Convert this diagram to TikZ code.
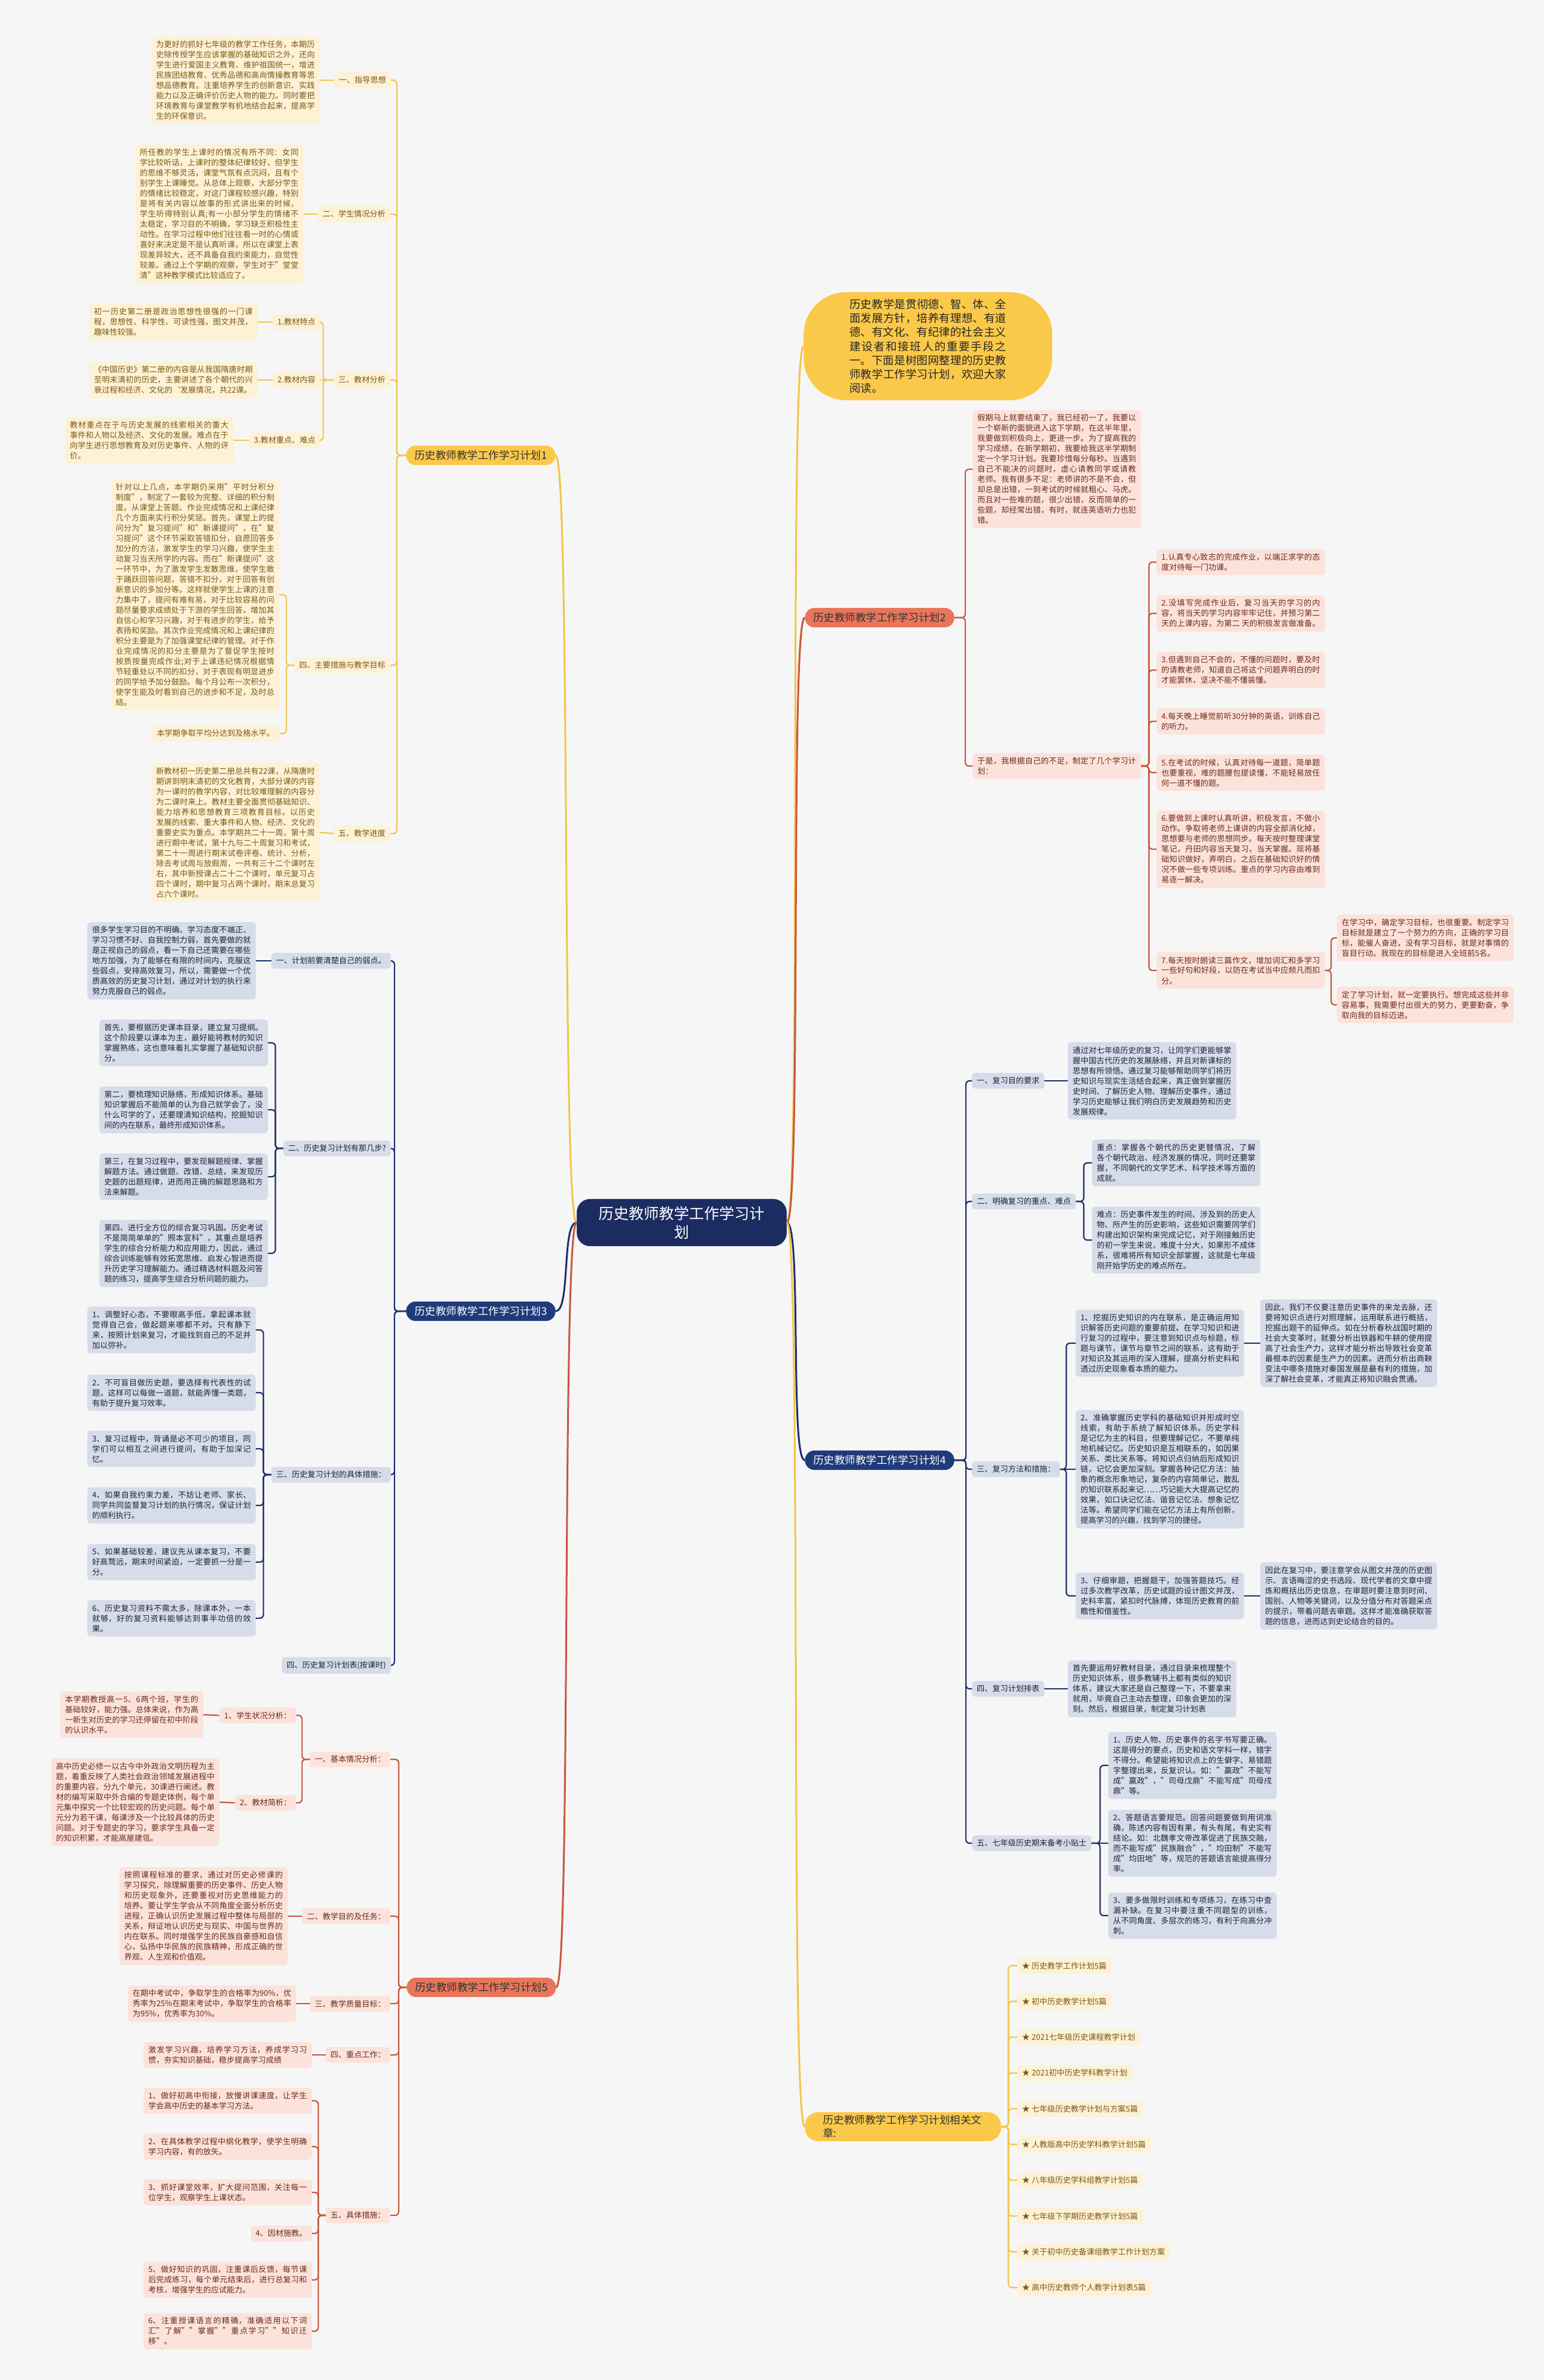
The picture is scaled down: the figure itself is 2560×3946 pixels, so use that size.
\documentclass[tikz,border=0pt]{standalone}
\usepackage{fontspec}
\setmainfont{Noto Sans CJK SC}
\XeTeXlinebreaklocale "zh"
\XeTeXlinebreakskip=0pt plus 1pt
\setlength{\parindent}{0pt}
\definecolor{bgc}{HTML}{F6F6F6}
\definecolor{yline}{HTML}{F2C548}
\definecolor{yfill}{HTML}{FDF1D6}
\definecolor{ytxt}{HTML}{7A5A14}
\definecolor{ymain}{HTML}{FBC94A}
\definecolor{rline}{HTML}{C8573C}
\definecolor{rfill}{HTML}{FBE3DB}
\definecolor{rtxt}{HTML}{6E2A1C}
\definecolor{rmain}{HTML}{E8765A}
\definecolor{bline}{HTML}{1E2F6B}
\definecolor{bfill}{HTML}{D7DCEA}
\definecolor{btxt}{HTML}{1E2436}
\definecolor{bmain}{HTML}{1F3B7A}
\definecolor{rootc}{HTML}{1B2D60}
\newcommand{\leaffont}{\fontsize{13}{17}\selectfont}
\newcommand{\branchfont}{\fontsize{17.5}{22}\selectfont}
\newcommand{\rootfont}{\fontsize{25}{31}\selectfont}
\newcommand{\introfont}{\fontsize{18.4}{23.3}\selectfont}

\begin{document}
\begin{tikzpicture}[x=1pt,y=-1pt,
  lab/.style={rounded corners=5pt,inner xsep=8pt,inner ysep=7pt,font=\leaffont},
  ylab/.style={lab,fill=yfill,text=ytxt},
  rlab/.style={lab,fill=rfill,text=rtxt},
  blab/.style={lab,fill=bfill,text=btxt},
  leafbox/.style={text width=263pt,align=justify},
  notebox/.style={text width=277pt,align=justify},
  mainbox/.style={rounded corners=16pt,inner xsep=14pt,inner ysep=8pt,font=\branchfont},
  ylink/.style={draw=yline,line width=2.2pt,rounded corners=6pt},
  rlink/.style={draw=rline,line width=2.2pt,rounded corners=6pt},
  blink/.style={draw=bline,line width=2.2pt,rounded corners=6pt}]
\fill[bgc] (0,0) rectangle (2560,3946);
\useasboundingbox (0,0) rectangle (2560,3946);

% root and intro
\node[fill=rootc,text=white,rounded corners=22pt,inner xsep=34pt,inner ysep=12pt,text width=280pt,align=center,font=\rootfont] (root) at (1130,2027) {历史教师教学工作学习计\\划};
\node[fill=ymain,text=black!85,rounded corners=70pt,inner xsep=76pt,inner ysep=11pt,text width=260pt,align=justify,font=\introfont,anchor=west] (intro) at (1332,574) {历史教学是贯彻德、智、体、全面发展方针，培养有理想、有道德、有文化、有纪律的社会主义建设者和接班人的重要手段之一。下面是树图网整理的历史教师教学工作学习计划，欢迎大家阅读。};

% plan 1
\node[mainbox,fill=ymain,text=black!80,anchor=east] (p1) at (921,755) {历史教师教学工作学习计划1};
\node[ylab,anchor=east] (p1a) at (648,133) {一、指导思想};
\node[ylab,leafbox,anchor=east] (p1aL) at (530,133) {为更好的抓好七年级的教学工作任务，本期历史除传授学生应该掌握的基础知识之外，还向学生进行爱国主义教育、维护祖国统一，增进民族团结教育、优秀品德和高尚情操教育等思想品德教育。注重培养学生的创新意识、实践能力以及正确评价历史人物的能力。同时要把环境教育与课堂教学有机地结合起来，提高学生的环保意识。};
\node[ylab,anchor=east] (p1b) at (647,355) {二、学生情况分析};
\node[ylab,leafbox,anchor=east] (p1bL) at (503,355) {所任教的学生上课时的情况有所不同：女同学比较听话，上课时的整体纪律较好，但学生的思维不够灵活，课堂气氛有点沉闷，且有个别学生上课睡觉。从总体上观察，大部分学生的情绪比较稳定，对这门课程较感兴趣，特别是将有关内容以故事的形式讲出来的时候，学生听得特别认真;有一小部分学生的情绪不太稳定，学习目的不明确，学习缺乏积极性主动性。在学习过程中他们往往看一时的心情或喜好来决定是不是认真听课，所以在课堂上表现差异较大，还不具备自我约束能力，自觉性较差。通过上个学期的观察，学生对于"堂堂清"这种教学模式比较适应了。};
\node[ylab,anchor=east] (p1c) at (647,630) {三、教材分析};
\node[ylab,anchor=east] (p1c1) at (531,534) {1.教材特点};
\node[ylab,leafbox,anchor=east] (p1c1L) at (427,534) {初一历史第二册是政治思想性很强的一门课程，思想性、科学性、可读性强，图文并茂，趣味性较强。};
\node[ylab,anchor=east] (p1c2) at (531,630) {2.教材内容};
\node[ylab,leafbox,anchor=east] (p1c2L) at (427,630) {《中国历史》第二册的内容是从我国隋唐时期至明末清初的历史，主要讲述了各个朝代的兴衰过程和经济、文化的`发展情况，共22课。};
\node[ylab,anchor=east] (p1c3) at (531,730) {3.教材重点、难点};
\node[ylab,leafbox,anchor=east] (p1c3L) at (387,730) {教材重点在于与历史发展的线索相关的重大事件和人物以及经济、文化的发展。难点在于向学生进行思想教育及对历史事件、人物的评价。};
\node[ylab,anchor=east] (p1d) at (647,1103) {四、主要措施与教学目标};
\node[ylab,leafbox,anchor=east] (p1d1) at (463,986) {针对以上几点，本学期仍采用"平时分积分制度"，制定了一套较为完整、详细的积分制度。从课堂上答题、作业完成情况和上课纪律几个方面来实行积分奖惩。首先，课堂上的提问分为"复习提问"和"新课提问"，在"复习提问"这个环节采取答错扣分，自愿回答多加分的方法，激发学生的学习兴趣，使学生主动复习当天所学的内容。而在"新课提问"这一环节中，为了激发学生发散思维，使学生敢于踊跃回答问题，答错不扣分，对于回答有创新意识的多加分等。这样就使学生上课的注意力集中了，提问有难有易，对于比较容易的问题尽量要求成绩处于下游的学生回答，增加其自信心和学习兴趣，对于有进步的学生，给予表扬和奖励。其次作业完成情况和上课纪律的积分主要是为了加强课堂纪律的管理。对于作业完成情况的扣分主要是为了督促学生按时按质按量完成作业;对于上课违纪情况根据情节轻重处以不同的扣分，对于表现有明显进步的同学给予加分鼓励。每个月公布一次积分，使学生能及时看到自己的进步和不足，及时总结。};
\node[ylab,anchor=east] (p1d2) at (463,1216) {本学期争取平均分达到及格水平。};
\node[ylab,anchor=east] (p1e) at (647,1382) {五、教学进度};
\node[ylab,leafbox,anchor=east] (p1eL) at (530,1380) {新教材初一历史第二册总共有22课，从隋唐时期讲到明末清初的文化教育，大部分课的内容为一课时的教学内容，对比较难理解的内容分为二课时来上。教材主要全面贯彻基础知识、能力培养和思想教育三项教育目标，以历史发展的线索、重大事件和人物、经济、文化的重要史实为重点。本学期共二十一周，第十周进行期中考试，第十九与二十周复习和考试，第二十一周进行期末试卷评卷、统计、分析，除去考试周与放假周，一共有三十二个课时左右，其中新授课占二十二个课时，单元复习占四个课时，期中复习占两个课时，期末总复习占六个课时。};

% plan 2
\node[mainbox,fill=rmain,text=black!80,anchor=west] (p2) at (1334,1024) {历史教师教学工作学习计划2};
\node[rlab,leafbox,anchor=west] (p2a) at (1612,778) {假期马上就要结束了，我已经初一了，我要以一个崭新的面貌进入这下学期，在这半年里，我要做到积极向上，更进一步。为了提高我的学习成绩，在新学期初，我要给我这半学期制定一个学习计划。我要珍惜每分每秒。当遇到自己不能决的问题时，虚心请教同学或请教老师。我有很多不足：老师讲的不是不会，但却总是出错，一到考试的时候就粗心、马虎。而且对一些难的题，很少出错，反而简单的一些题，却经常出错，有时，就连英语听力也犯错。};
\node[rlab,leafbox,anchor=west] (p2b) at (1612,1270) {于是，我根据自己的不足，制定了几个学习计划：};
\node[rlab,leafbox,anchor=west] (p2i1) at (1917,932) {1.认真专心致志的完成作业，以端正求学的态度对待每一门功课。};
\node[rlab,leafbox,anchor=west] (p2i2) at (1917,1017) {2.没填写完成作业后，复习当天的学习的内容，将当天的学习内容牢牢记住，并预习第二天的上课内容，为第二 天的积极发言做准备。};
\node[rlab,leafbox,anchor=west] (p2i3) at (1917,1111) {3.但遇到自己不会的，不懂的问题时，要及时的请教老师，知道自己将这个问题弄明白的时才能罢休，坚决不能不懂装懂。};
\node[rlab,leafbox,anchor=west] (p2i4) at (1917,1196) {4.每天晚上睡觉前听30分钟的英语，训练自己的听力。};
\node[rlab,leafbox,anchor=west] (p2i5) at (1917,1281) {5.在考试的时候，认真对待每一道题，简单题也要重视，难的题腰包提读懂，不能轻易放任何一道不懂的题。};
\node[rlab,leafbox,anchor=west] (p2i6) at (1917,1408) {6.要做到上课时认真听讲，积极发言，不做小动作。争取将老师上课讲的内容全部消化掉，思想要与老师的思想同步。每天按时整理课堂笔记，丹田内容当天复习，当天掌握。现将基础知识做好，弄明白，之后在基础知识好的情况不做一些专项训练。重点的学习内容由难到易逐一解决。};
\node[rlab,leafbox,anchor=west] (p2i7) at (1917,1609) {7.每天按时朗读三篇作文，增加词汇和多学习一些好句和好段，以防在考试当中应频凡而扣分。};
\node[rlab,notebox,anchor=west] (p2i7a) at (2216,1555) {在学习中，确定学习目标，也很重要。制定学习目标就是建立了一个努力的方向，正确的学习目标，能催人奋进，没有学习目标，就是对事情的盲目行动。我现在的目标是进入全班前5名。};
\node[rlab,notebox,anchor=west] (p2i7b) at (2216,1666) {定了学习计划，就一定要执行。想完成这些并非容易事，我需要付出很大的努力，更要勤奋，争取向我的目标迈进。};

% plan 3
\node[mainbox,fill=bmain,text=white,anchor=east] (p3) at (921,2174) {历史教师教学工作学习计划3};
\node[blab,anchor=east] (p3a) at (648,1593) {一、计划前要清楚自己的弱点。};
\node[blab,leafbox,anchor=east] (p3aL) at (424,1593) {很多学生学习目的不明确、学习态度不端正、学习习惯不好、自我控制力弱，首先要做的就是正视自己的弱点，看一下自己还需要在哪些地方加强，为了能够在有限的时间内，克服这些弱点，安排高效复习，所以，需要做一个优质高效的历史复习计划，通过对计划的执行来努力克服自己的弱点。};
\node[blab,anchor=east] (p3b) at (648,1904) {二、历史复习计划有那几步?};
\node[blab,leafbox,anchor=east] (p3b1) at (444,1729) {首先，要根据历史课本目录，建立复习提纲。这个阶段要以课本为主，最好能将教材的知识掌握熟练，这也意味着扎实掌握了基础知识部分。};
\node[blab,leafbox,anchor=east] (p3b2) at (444,1840) {第二，要梳理知识脉络，形成知识体系。基础知识掌握后不能简单的认为自己就学会了，没什么可学的了，还要理清知识结构，挖掘知识间的内在联系，最终形成知识体系。};
\node[blab,leafbox,anchor=east] (p3b3) at (444,1951) {第三，在复习过程中，要发现解题规律、掌握解题方法。通过做题、改错、总结，来发现历史题的出题规律，进而用正确的解题思路和方法来解题。};
\node[blab,leafbox,anchor=east] (p3b4) at (444,2078) {第四、进行全方位的综合复习巩固。历史考试不是简简单单的"照本宣科"，其重点是培养学生的综合分析能力和应用能力，因此，通过综合训练能够有效拓宽思维、启发心智进而提升历史学习理解能力。通过精选材料题及问答题的练习，提高学生综合分析问题的能力。};
\node[blab,anchor=east] (p3c) at (648,2445) {三、历史复习计划的具体措施：};
\node[blab,leafbox,anchor=east] (p3c1) at (424,2205) {1、调整好心态，不要眼高手低，拿起课本就觉得自己会，做起题来哪都不对。只有静下来，按照计划来复习，才能找到自己的不足并加以弥补。};
\node[blab,leafbox,anchor=east] (p3c2) at (424,2309) {2、不可盲目做历史题，要选择有代表性的试题，这样可以每做一道题，就能弄懂一类题，有助于提升复习效率。};
\node[blab,leafbox,anchor=east] (p3c3) at (424,2402) {3、复习过程中，背诵是必不可少的项目，同学们可以相互之间进行提问，有助于加深记忆。};
\node[blab,leafbox,anchor=east] (p3c4) at (424,2496) {4、如果自我约束力差，不妨让老师、家长、同学共同监督复习计划的执行情况，保证计划的顺利执行。};
\node[blab,leafbox,anchor=east] (p3c5) at (424,2590) {5、如果基础较差，建议先从课本复习，不要好高骛远，期末时间紧迫，一定要抓一分是一分。};
\node[blab,leafbox,anchor=east] (p3c6) at (424,2683) {6、历史复习资料不需太多，除课本外，一本就够，好的复习资料能够达到事半功倍的效果。};
\node[blab,anchor=east] (p3d) at (648,2761) {四、历史复习计划表(按课时)};

% plan 4
\node[mainbox,fill=bmain,text=white,anchor=west] (p4) at (1334,2421) {历史教师教学工作学习计划4};
\node[blab,anchor=west] (p4a) at (1611,1792) {一、复习目的要求};
\node[blab,leafbox,anchor=west] (p4aL) at (1770,1792) {通过对七年级历史的复习，让同学们更能够掌握中国古代历史的发展脉络，并且对新课标的思想有所领悟。通过复习能够帮助同学们将历史知识与现实生活结合起来，真正做到掌握历史时间、了解历史人物、理解历史事件，通过学习历史能够让我们明白历史发展趋势和历史发展规律。};
\node[blab,anchor=west] (p4b) at (1611,1992) {二、明确复习的重点、难点};
\node[blab,leafbox,anchor=west] (p4b1) at (1810,1928) {重点：掌握各个朝代的历史更替情况，了解各个朝代政治、经济发展的情况，同时还要掌握，不同朝代的文学艺术、科学技术等方面的成就。};
\node[blab,leafbox,anchor=west] (p4b2) at (1810,2056) {难点：历史事件发生的时间、涉及到的历史人物、所产生的历史影响，这些知识需要同学们构建出知识架构来完成记忆，对于刚接触历史的初一学生来说，难度十分大，如果形不成体系，很难将所有知识全部掌握，这就是七年级刚开始学历史的难点所在。};
\node[blab,anchor=west] (p4c) at (1611,2436) {三、复习方法和措施：};
\node[blab,leafbox,anchor=west] (p4c1) at (1783,2227) {1、挖掘历史知识的内在联系，是正确运用知识解答历史问题的重要前提。在学习知识和进行复习的过程中，要注意到知识点与标题，标题与课节，课节与章节之间的联系，这有助于对知识及其运用的深入理解，提高分析史料和透过历史现象看本质的能力。};
\node[blab,notebox,anchor=west] (p4c1n) at (2089,2227) {因此，我们不仅要注意历史事件的来龙去脉，还要将知识点进行对照理解，运用联系进行概括，挖掘出题干的延伸点。如在分析春秋战国时期的社会大变革时，就要分析出铁器和牛耕的使用提高了社会生产力，这样才能分析出导致社会变革最根本的因素是生产力的因素。进而分析出商鞅变法中哪条措施对秦国发展是最有利的措施，加深了解社会变革，才能真正将知识融会贯通。};
\node[blab,leafbox,anchor=west] (p4c2) at (1783,2436) {2、准确掌握历史学科的基础知识并形成时空线索，有助于系统了解知识体系。历史学科是记忆为主的科目，但要理解记忆，不要单纯地机械记忆。历史知识是互相联系的，如因果关系、类比关系等。将知识点归纳后形成知识链，记忆会更加深刻。掌握各种记忆方法：抽象的概念形象地记，复杂的内容简单记，散乱的知识联系起来记……巧记能大大提高记忆的效果，如口诀记忆法、谐音记忆法、想象记忆法等。希望同学们能在记忆方法上有所创新，提高学习的兴趣，找到学习的捷径。};
\node[blab,leafbox,anchor=west] (p4c3) at (1783,2646) {3、仔细审题，把握题干，加强答题技巧。经过多次教学改革，历史试题的设计图文并茂，史料丰富，紧扣时代脉搏，体现历史教育的前瞻性和借鉴性。};
\node[blab,notebox,anchor=west] (p4c3n) at (2089,2646) {因此在复习中，要注意学会从图文并茂的历史图示、言语晦涩的史书选段、现代学者的文章中提炼和概括出历史信息，在审题时要注意到时间、国别、人物等关键词，以及分值分布对答题采点的提示，带着问题去审题。这样才能准确获取答题的信息，进而达到史论结合的目的。};
\node[blab,anchor=west] (p4d) at (1611,2800) {四、复习计划排表};
\node[blab,leafbox,anchor=west] (p4dL) at (1770,2800) {首先要运用好教材目录，通过目录来梳理整个历史知识体系，很多教辅书上都有类似的知识体系，建议大家还是自己整理一下，不要拿来就用，毕竟自己主动去整理，印象会更加的深刻。然后，根据目录，制定复习计划表};
\node[blab,anchor=west] (p4e) at (1611,3056) {五、七年级历史期末备考小贴士};
\node[blab,leafbox,anchor=west] (p4e1) at (1837,2927) {1、历史人物、历史事件的名字书写要正确。这是得分的要点，历史和语文学科一样，错字不得分。希望能将知识点上的生僻字、易错题字整理出来，反复识认。如："嬴政"不能写成"赢政"，"司母戊鼎"不能写成"司母戌鼎"等。};
\node[blab,leafbox,anchor=west] (p4e2) at (1837,3056) {2、答题语言要规范。回答问题要做到用词准确，陈述内容有因有果，有头有尾，有史实有结论。如：北魏孝文帝改革促进了民族交融，而不能写成"民族融合"，"均田制"不能写成"均田地"等，规范的答题语言能提高得分率。};
\node[blab,leafbox,anchor=west] (p4e3) at (1837,3176) {3、要多做限时训练和专项练习，在练习中查漏补缺。在复习中要注重不同题型的训练，从不同角度、多层次的练习，有利于向高分冲刺。};

% plan 5
\node[mainbox,fill=rmain,text=black!80,anchor=east] (p5) at (922,3295) {历史教师教学工作学习计划5};
\node[rlab,anchor=east] (p5a) at (647,2917) {一、基本情况分析：};
\node[rlab,anchor=east] (p5a1) at (491,2844) {1、学生状况分析：};
\node[rlab,text width=221pt,align=justify,anchor=east] (p5a1L) at (337,2843) {本学期教授高一5、6两个班，学生的基础较好，能力强。总体来说，作为高一新生对历史的学习还停留在初中阶段的认识水平。};
\node[rlab,anchor=east] (p5a2) at (491,2989) {2、教材简析：};
\node[rlab,leafbox,anchor=east] (p5a2L) at (364,2988) {高中历史必修一以古今中外政治文明历程为主题，着重反映了人类社会政治领域发展进程中的重要内容，分九个单元，30课进行阐述。教材的编写采取中外合编的专题史体例，每个单元集中探究一个比较宏观的历史问题。每个单元分为若干课，每课涉及一个比较具体的历史问题。对于专题史的学习，要求学生具备一定的知识积累，才能高屋建瓴。};
\node[rlab,anchor=east] (p5b) at (647,3177) {二、教学目的及任务：};
\node[rlab,leafbox,anchor=east] (p5bL) at (477,3177) {按照课程标准的要求，通过对历史必修课的学习探究，除理解重要的历史事件、历史人物和历史现象外，还要重视对历史思维能力的培养。要让学生学会从不同角度全面分析历史进程，正确认识历史发展过程中整体与局部的关系，辩证地认识历史与现实、中国与世界的内在联系。同时增强学生的民族自豪感和自信心，弘扬中华民族的民族精神，形成正确的世界观、人生观和价值观。};
\node[rlab,anchor=east] (p5c) at (647,3322) {三、教学质量目标：};
\node[rlab,leafbox,anchor=east] (p5cL) at (491,3322) {在期中考试中，争取学生的合格率为90\%，优秀率为25\%在期末考试中，争取学生的合格率为95\%，优秀率为30\%。};
\node[rlab,anchor=east] (p5d) at (647,3407) {四、重点工作：};
\node[rlab,leafbox,anchor=east] (p5dL) at (517,3407) {激发学习兴趣，培养学习方法，养成学习习惯，夯实知识基础，稳步提高学习成绩};
\node[rlab,anchor=east] (p5e) at (647,3673) {五、具体措施：};
\node[rlab,leafbox,anchor=east] (p5e1) at (517,3483) {1、做好初高中衔接，放慢讲课速度，让学生学会高中历史的基本学习方法。};
\node[rlab,leafbox,anchor=east] (p5e2) at (517,3559) {2、在具体教学过程中纲化教学，使学生明确学习内容，有的放矢。};
\node[rlab,leafbox,anchor=east] (p5e3) at (517,3635) {3、抓好课堂效率，扩大提问范围，关注每一位学生，观察学生上课状态。};
\node[rlab,anchor=east] (p5e4) at (517,3703) {4、因材施教。};
\node[rlab,leafbox,anchor=east] (p5e5) at (517,3780) {5、做好知识的巩固，注重课后反馈，每节课后完成练习，每个单元结束后，进行总复习和考核，增强学生的应试能力。};
\node[rlab,leafbox,anchor=east] (p5e6) at (517,3865) {6、注重授课语言的精确，准确适用以下词汇"了解""掌握""重点学习""知识迁移"。};

% related articles
\node[mainbox,fill=ymain,text=black!80,rounded corners=22pt,inner xsep=30pt,inner ysep=5pt,text width=265pt,align=left,anchor=west] (rel) at (1334,3526) {历史教师教学工作学习计划相关文章:};
\foreach \txt [count=\i] in {历史教学工作计划5篇,初中历史教学计划5篇,2021七年级历史课程教学计划,2021初中历史学科教学计划,七年级历史教学计划与方案5篇,人教版高中历史学科教学计划5篇,八年级历史学科组教学计划5篇,七年级下学期历史教学计划5篇,关于初中历史备课组教学工作计划方案,高中历史教师个人教学计划表5篇}
  \node[ylab,anchor=west] (r\i) at (1686,{3259+(\i-1)*59.3}) {★ \txt};

% connectors from the root
\draw[ylink,line width=3pt] (root.east) .. controls +(25,0) and +(-25,0) .. (intro.west);
\draw[rlink,line width=3pt] (root.east) .. controls +(25,0) and +(-25,0) .. (p2.west);
\draw[blink,line width=3pt] (root.east) .. controls +(25,0) and +(-25,0) .. (p4.west);
\draw[ylink,line width=3pt] (root.east) .. controls +(25,0) and +(-25,0) .. (rel.west);
\draw[ylink,line width=3pt] (root.west) .. controls +(-25,0) and +(25,0) .. (p1.east);
\draw[blink,line width=3pt] (root.west) .. controls +(-25,0) and +(25,0) .. (p3.east);
\draw[rlink,line width=3pt] (root.west) .. controls +(-25,0) and +(25,0) .. (p5.east);

% plan 1 links
\foreach \t in {p1a,p1b,p1c,p1d,p1e} \draw[ylink] (p1.west) -- ++(-15,0) |- (\t.east);
\draw[ylink] (p1a.west) -- (p1aL.east);
\draw[ylink] (p1b.west) -- (p1bL.east);
\foreach \t in {p1c1,p1c3} \draw[ylink] (p1c.west) -- ++(-17,0) |- (\t.east);
\draw[ylink] (p1c.west) -- (p1c2.east);
\draw[ylink] (p1c1.west) -- (p1c1L.east);
\draw[ylink] (p1c2.west) -- (p1c2L.east);
\draw[ylink] (p1c3.west) -- (p1c3L.east);
\foreach \t in {p1d1,p1d2} \draw[ylink] (p1d.west) -- ++(-13,0) |- (\t.east);
\draw[ylink] (p1e.west) -- (p1eL.east);

% plan 2 links
\foreach \t in {p2a,p2b} \draw[rlink] (p2.east) -- ++(18,0) |- (\t.west);
\foreach \i in {1,...,7} \draw[rlink] (p2b.east) -- ++(13,0) |- (p2i\i.west);
\foreach \t in {p2i7a,p2i7b} \draw[rlink] (p2i7.east) -- ++(10,0) |- (\t.west);

% plan 3 links
\foreach \t in {p3a,p3b,p3c,p3d} \draw[blink] (p3.west) -- ++(-19,0) |- (\t.east);
\draw[blink] (p3a.west) -- (p3aL.east);
\foreach \i in {1,...,4} \draw[blink] (p3b.west) -- ++(-13,0) |- (p3b\i.east);
\foreach \i in {1,...,6} \draw[blink] (p3c.west) -- ++(-13,0) |- (p3c\i.east);

% plan 4 links
\foreach \t in {p4a,p4b,p4c,p4d,p4e} \draw[blink] (p4.east) -- ++(19,0) |- (\t.west);
\draw[blink] (p4a.east) -- (p4aL.west);
\foreach \t in {p4b1,p4b2} \draw[blink] (p4b.east) -- ++(13,0) |- (\t.west);
\foreach \t in {p4c1,p4c3} \draw[blink] (p4c.east) -- ++(10,0) |- (\t.west);
\draw[blink] (p4c.east) -- (p4c2.west);
\draw[blink] (p4c1.east) -- (p4c1n.west);
\draw[blink] (p4c3.east) -- (p4c3n.west);
\draw[blink] (p4d.east) -- (p4dL.west);
\foreach \t in {p4e1,p4e3} \draw[blink] (p4e.east) -- ++(14,0) |- (\t.west);
\draw[blink] (p4e.east) -- (p4e2.west);

% plan 5 links
\foreach \t in {p5a,p5b,p5c,p5d,p5e} \draw[rlink] (p5.west) -- ++(-13,0) |- (\t.east);
\foreach \t in {p5a1,p5a2} \draw[rlink] (p5a.west) -- ++(-13,0) |- (\t.east);
\draw[rlink] (p5a1.west) -- (p5a1L.east);
\draw[rlink] (p5a2.west) -- (p5a2L.east);
\draw[rlink] (p5b.west) -- (p5bL.east);
\draw[rlink] (p5c.west) -- (p5cL.east);
\draw[rlink] (p5d.west) -- (p5dL.east);
\foreach \i in {1,...,6} \draw[rlink] (p5e.west) -- ++(-12,0) |- (p5e\i.east);

% related links
\foreach \i in {1,...,10} \draw[ylink] (rel.east) -- ++(12,0) |- (r\i.west);
\end{tikzpicture}
\end{document}
